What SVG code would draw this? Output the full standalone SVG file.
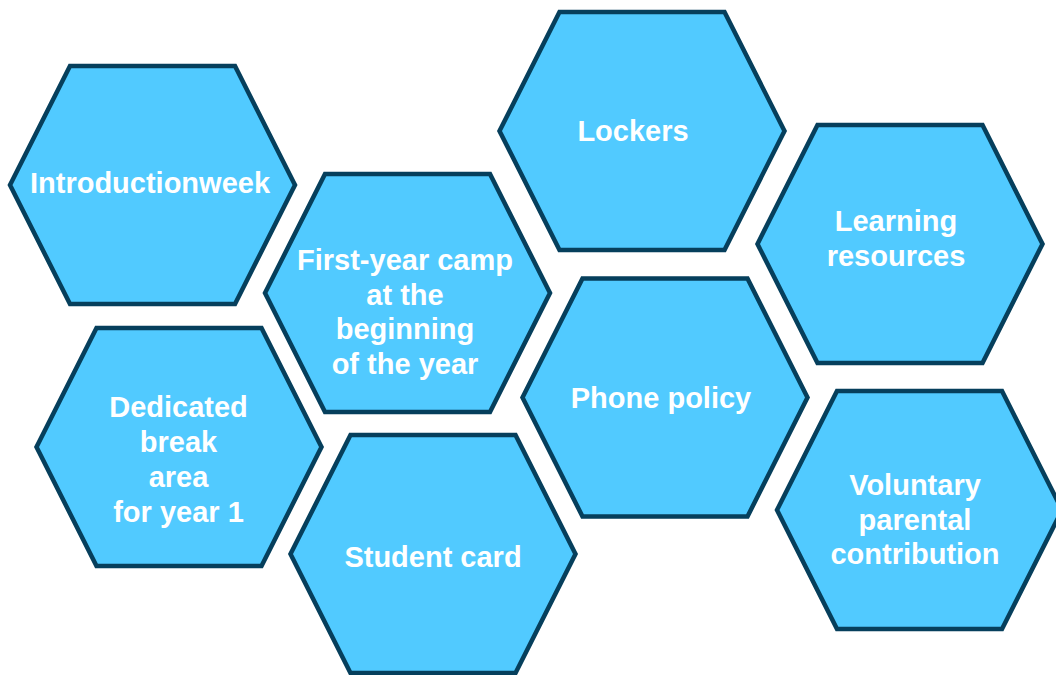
<svg xmlns="http://www.w3.org/2000/svg" width="1056" height="675" viewBox="0 0 1056 675">
<defs>
<style>
.hex{fill:#51CAFF;stroke:#063F5C;stroke-width:4.5;stroke-linejoin:miter}
.t{font-family:"Liberation Sans",Arial,sans-serif;font-weight:bold;font-size:29px;fill:#FFFFFF;text-anchor:middle}
</style>
<polygon id="hx" class="hex" points="-142.5,0 -82.5,-119 82.5,-119 142.5,0 82.5,119 -82.5,119"/>
</defs>
<rect width="1056" height="675" fill="#FFFFFF"/>
<g id="connectors"></g>
<g id="n1">
<use href="#hx" x="152.5" y="185"/>
<text class="t" x="150" y="193">Introductionweek</text>
</g>
<g id="n2">
<use href="#hx" x="407.5" y="293"/>
<text class="t" x="405" y="270">First-year camp</text>
<text class="t" x="405" y="304.5">at the</text>
<text class="t" x="405" y="339">beginning</text>
<text class="t" x="405" y="373.5">of the year</text>
</g>
<g id="n3">
<use href="#hx" x="642" y="131"/>
<text class="t" x="633" y="141">Lockers</text>
</g>
<g id="n4">
<use href="#hx" x="900" y="244"/>
<text class="t" x="896" y="231">Learning</text>
<text class="t" x="896" y="265.5">resources</text>
</g>
<g id="n5">
<use href="#hx" x="179" y="447"/>
<text class="t" x="178.5" y="416.5">Dedicated</text>
<text class="t" x="178.5" y="451.5">break</text>
<text class="t" x="178.5" y="486.5">area</text>
<text class="t" x="178.5" y="521.5">for year 1</text>
</g>
<g id="n6">
<use href="#hx" x="433" y="554"/>
<text class="t" x="433" y="567">Student card</text>
</g>
<g id="n7">
<use href="#hx" x="665" y="397.5"/>
<text class="t" x="661" y="408">Phone policy</text>
</g>
<g id="n8">
<use href="#hx" x="919.5" y="510"/>
<text class="t" x="915" y="494.5">Voluntary</text>
<text class="t" x="915" y="529.5">parental</text>
<text class="t" x="915" y="564">contribution</text>
</g>
</svg>
